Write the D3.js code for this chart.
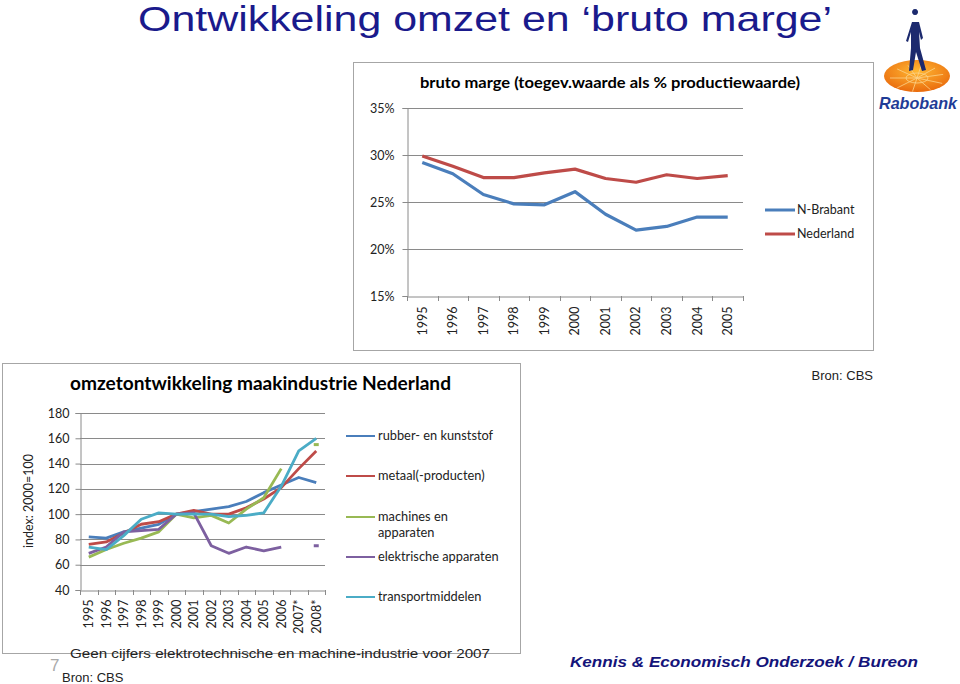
<!DOCTYPE html>
<html><head><meta charset="utf-8">
<script src="https://cdn.jsdelivr.net/npm/d3@7"></script>
<style>body{margin:0;background:#fff}svg{display:block}</style>
</head><body>
<svg id="c" width="960" height="684"></svg>
<script>
// ---- data: top chart ----
const topYears = ["1995","1996","1997","1998","1999","2000","2001","2002","2003","2004","2005"];
const nBrabant = [29.2,28.0,25.8,24.8,24.7,26.1,23.7,22.0,22.4,23.4,23.4];
const nederland = [29.9,28.8,27.6,27.6,28.1,28.5,27.5,27.1,27.9,27.5,27.8];
const topTicks = [15,20,25,30,35];
const topSeriesNames = ["N-Brabant","Nederland"];

// ---- data: bottom chart ----
const botYears = ["1995","1996","1997","1998","1999","2000","2001","2002","2003","2004","2005","2006","2007*","2008*"];
const rubber = [82,81,86,89,92,100,102,104,106,110,117,123,129,125];
const metaal = [76,78,85,92,94,100,103,100,100,105,112,121,136,150];
const machines = [66,72,77,81,86,100,97,99,93,104,113,136,null,155];
const elektrisch = [69,74,86,87,88,100,101,75,69,74,71,74,null,75];
const transport = [74,72,83,96,101,100,100,100,98,99,101,122,150,160];
const botTicks = [40,60,80,100,120,140,160,180];
const botSeriesNames = ["rubber- en kunststof","metaal(-producten)","machines en apparaten","elektrische apparaten","transportmiddelen"];

const svg = d3.select("#c");
const gridCol = "#8a8a8a";
const blue = "#4a7ebb", red = "#be4b48", green = "#98b954", purple = "#7d60a0", cyan = "#4bacc6";

// Main title
svg.append("text").attr("x",485).attr("y",31).attr("text-anchor","middle")
  .attr("font-family","Liberation Sans, Arial, sans-serif").attr("font-size",35)
  .attr("fill","#1a1a8c").attr("textLength",694).attr("lengthAdjust","spacingAndGlyphs")
  .text("Ontwikkeling omzet en ‘bruto marge’");

// ---------- TOP CHART ----------
svg.append("rect").attr("x",353.5).attr("y",62.5).attr("width",520).attr("height",288)
  .attr("fill","#fff").attr("stroke","#a6a6a6");
const xT = d3.scaleBand().domain(topYears).range([407,743]);
const yT = d3.scaleLinear().domain([15,35]).range([296,108]);
const gT = svg.append("g");
gT.append("text").attr("x",610).attr("y",88).attr("text-anchor","middle")
  .attr("font-family","Lato, Open Sans, sans-serif").attr("font-weight","bold").attr("font-size",16)
  .attr("fill","#000").attr("textLength",380).attr("lengthAdjust","spacingAndGlyphs")
  .text("bruto marge (toegev.waarde als % productiewaarde)");
gT.selectAll("line.g").data(topTicks.slice(1)).join("line")
  .attr("x1",407).attr("x2",743).attr("y1",d=>Math.round(yT(d))+0.5).attr("y2",d=>Math.round(yT(d))+0.5)
  .attr("stroke",gridCol).attr("stroke-width",1);
const yAxT = d3.axisLeft(yT).tickValues(topTicks).tickSize(5).tickFormat(d=>d+"%");
const yAxTg = gT.append("g").attr("transform","translate(407.5,0)").call(yAxT);
yAxTg.select(".domain").attr("stroke",gridCol);
yAxTg.selectAll(".tick line").attr("stroke",gridCol);
yAxTg.selectAll("text").attr("font-family","Lato, Open Sans, sans-serif").attr("font-size",12.5).attr("fill","#222").attr("x",-13);
const xAxTg = gT.append("g").attr("transform","translate(0,296.5)").call(d3.axisBottom(xT).tickSize(0));
xAxTg.select(".domain").attr("stroke",gridCol);
xAxTg.selectAll("text").attr("font-family","Lato, Open Sans, sans-serif").attr("font-size",12.5).attr("fill","#222")
  .attr("transform","rotate(-90)").attr("text-anchor","end").attr("x",-10).attr("y",0).attr("dy","0.35em");
gT.selectAll("line.tk").data(d3.range(topYears.length+1)).join("line")
  .attr("x1",i=>Math.round(407+i*xT.step())+0.5).attr("x2",i=>Math.round(407+i*xT.step())+0.5)
  .attr("y1",296).attr("y2",301).attr("stroke",gridCol);
const lineT = d3.line().x((d,i)=>xT(topYears[i])+xT.bandwidth()/2).y(d=>yT(d));
[[nBrabant,blue],[nederland,red]].forEach(([s,c])=>{
  gT.append("path").datum(s).attr("d",lineT).attr("fill","none").attr("stroke",c).attr("stroke-width",3.2).attr("stroke-linejoin","round");
});
[[topSeriesNames[0],blue,210],[topSeriesNames[1],red,234]].forEach(([n,c,y])=>{
  gT.append("line").attr("x1",765).attr("x2",795).attr("y1",y).attr("y2",y).attr("stroke",c).attr("stroke-width",3);
  gT.append("text").attr("x",797).attr("y",y).attr("dy","0.35em").attr("font-family","Lato, Open Sans, sans-serif")
    .attr("font-size",12.5).attr("fill","#222").text(n);
});

// ---------- BOTTOM CHART ----------
svg.append("rect").attr("x",2.5).attr("y",363.5).attr("width",518).attr("height",290)
  .attr("fill","#fff").attr("stroke","#a6a6a6");
const xB = d3.scaleBand().domain(botYears).range([80,325]);
const yB = d3.scaleLinear().domain([40,180]).range([590,413]);
const gB = svg.append("g");
gB.append("text").attr("x",70).attr("y",390).attr("font-family","Lato, Open Sans, sans-serif")
  .attr("font-weight","bold").attr("font-size",18).attr("fill","#000")
  .attr("textLength",381).attr("lengthAdjust","spacingAndGlyphs")
  .text("omzetontwikkeling maakindustrie Nederland");
gB.selectAll("line.g").data(botTicks.slice(1)).join("line")
  .attr("x1",80).attr("x2",325).attr("y1",d=>Math.round(yB(d))+0.5).attr("y2",d=>Math.round(yB(d))+0.5)
  .attr("stroke",gridCol);
const yAxBg = gB.append("g").attr("transform","translate(80.5,0)").call(d3.axisLeft(yB).tickValues(botTicks).tickSize(5));
yAxBg.select(".domain").attr("stroke",gridCol);
yAxBg.selectAll(".tick line").attr("stroke",gridCol);
yAxBg.selectAll("text").attr("font-family","Lato, Open Sans, sans-serif").attr("font-size",12.5).attr("fill","#222").attr("x",-11);
const xAxBg = gB.append("g").attr("transform","translate(0,590.5)").call(d3.axisBottom(xB).tickSize(0));
xAxBg.select(".domain").attr("stroke",gridCol);
xAxBg.selectAll("text").attr("font-family","Lato, Open Sans, sans-serif").attr("font-size",12.5).attr("fill","#222")
  .attr("transform","rotate(-90)").attr("text-anchor","end").attr("x",-9).attr("y",0).attr("dy","0.35em");
gB.selectAll("line.tk").data(d3.range(botYears.length+1)).join("line")
  .attr("x1",i=>Math.round(80+i*xB.step())+0.5).attr("x2",i=>Math.round(80+i*xB.step())+0.5)
  .attr("y1",590).attr("y2",595).attr("stroke",gridCol);
gB.append("text").attr("transform","translate(33,501) rotate(-90)").attr("text-anchor","middle")
  .attr("font-family","Lato, Open Sans, sans-serif").attr("font-size",12.5).attr("fill","#222").text("index: 2000=100");

const bx = i => xB(botYears[i]) + xB.bandwidth()/2;
const lineB = d3.line().defined(d=>d!=null).x((d,i)=>bx(i)).y(d=>yB(d));
const botSeries = [[rubber,blue],[metaal,red],[machines,green],[elektrisch,purple],[transport,cyan]];
botSeries.forEach(([s,c])=>{
  gB.append("path").datum(s).attr("d",lineB).attr("fill","none").attr("stroke",c).attr("stroke-width",2.8).attr("stroke-linejoin","round");
  s.forEach((v,i)=>{
    if(v!=null && (i===0||s[i-1]==null) && (i===s.length-1||s[i+1]==null)){
      gB.append("line").attr("x1",bx(i)-2.5).attr("x2",bx(i)+2.5).attr("y1",yB(v)).attr("y2",yB(v))
        .attr("stroke",c).attr("stroke-width",3);
    }
  });
});
const legY = [436,476,517,557,597];
botSeries.forEach(([s,c],k)=>{
  gB.append("line").attr("x1",346).attr("x2",375).attr("y1",legY[k]).attr("y2",legY[k]).attr("stroke",c).attr("stroke-width",2);
  const t = gB.append("text").attr("x",378).attr("y",legY[k]).attr("dy","0.35em")
    .attr("font-family","Lato, Open Sans, sans-serif").attr("font-size",12.8).attr("fill","#222");
  if(k===2){
    t.text("machines en");
    gB.append("text").attr("x",378).attr("y",legY[k]+16).attr("dy","0.35em")
      .attr("font-family","Lato, Open Sans, sans-serif").attr("font-size",12.8).attr("fill","#222").text("apparaten");
  } else t.text(botSeriesNames[k]);
});

svg.append("text").attr("x",873).attr("y",380).attr("text-anchor","end")
  .attr("font-family","Liberation Sans, Arial, sans-serif").attr("font-size",13).attr("fill","#222").text("Bron: CBS");

svg.append("text").attr("x",70).attr("y",658).attr("font-family","Liberation Sans, Arial, sans-serif")
  .attr("font-size",13).attr("fill","#222").attr("textLength",420).attr("lengthAdjust","spacingAndGlyphs")
  .text("Geen cijfers elektrotechnische en machine-industrie voor 2007");
svg.append("text").attr("x",62).attr("y",682).attr("font-family","Liberation Sans, Arial, sans-serif")
  .attr("font-size",13).attr("fill","#222").text("Bron: CBS");
svg.append("text").attr("x",50).attr("y",671).attr("font-family","Liberation Sans, Arial, sans-serif")
  .attr("font-size",17).attr("fill","#aaa").text("7");
svg.append("text").attr("x",570).attr("y",667).attr("font-family","Liberation Sans, Arial, sans-serif")
  .attr("font-size",14).attr("font-weight","bold").attr("font-style","italic").attr("fill","#14147a")
  .attr("textLength",348).attr("lengthAdjust","spacingAndGlyphs")
  .text("Kennis & Economisch Onderzoek / Bureon");

// Rabobank logo (approximation)
const logo = svg.append("g");
const grad = svg.append("defs").append("radialGradient").attr("id","og").attr("cx","50%").attr("cy","35%").attr("r","70%");
grad.append("stop").attr("offset","0%").attr("stop-color","#ffb833");
grad.append("stop").attr("offset","100%").attr("stop-color","#e8650a");
logo.append("ellipse").attr("cx",917).attr("cy",76).attr("rx",33).attr("ry",16).attr("fill","url(#og)");
[[-30,0],[-22,-10],[-10,-14],[5,-15],[20,-11],[29,-4],[28,6],[15,13],[-5,15],[-22,11]].forEach(([dx,dy])=>{
  logo.append("line").attr("x1",917).attr("y1",78).attr("x2",917+dx*0.9).attr("y2",78+dy*0.9)
    .attr("stroke","#fbd38a").attr("stroke-width",0.8);
});
logo.append("ellipse").attr("cx",917).attr("cy",78).attr("rx",11).attr("ry",5).attr("fill","none").attr("stroke","#fbd38a").attr("stroke-width",0.8);
logo.append("path").attr("fill","#1c2a6e")
  .attr("d","M915,15 a3,3 0 1,1 0.1,0 Z M912,22 L919,22 L923,38 L921,40 L919,32 L920,48 L926,70 L922,71 L916,52 L913,70 L909,71 L911,48 L911,32 L908,42 L906,41 Z");
logo.append("text").attr("x",879).attr("y",109).attr("font-family","Liberation Sans, Arial, sans-serif")
  .attr("font-size",17).attr("font-weight","bold").attr("font-style","italic").attr("fill","#1f3c96")
  .attr("textLength",78).attr("lengthAdjust","spacingAndGlyphs").text("Rabobank");
</script>
</body></html>
